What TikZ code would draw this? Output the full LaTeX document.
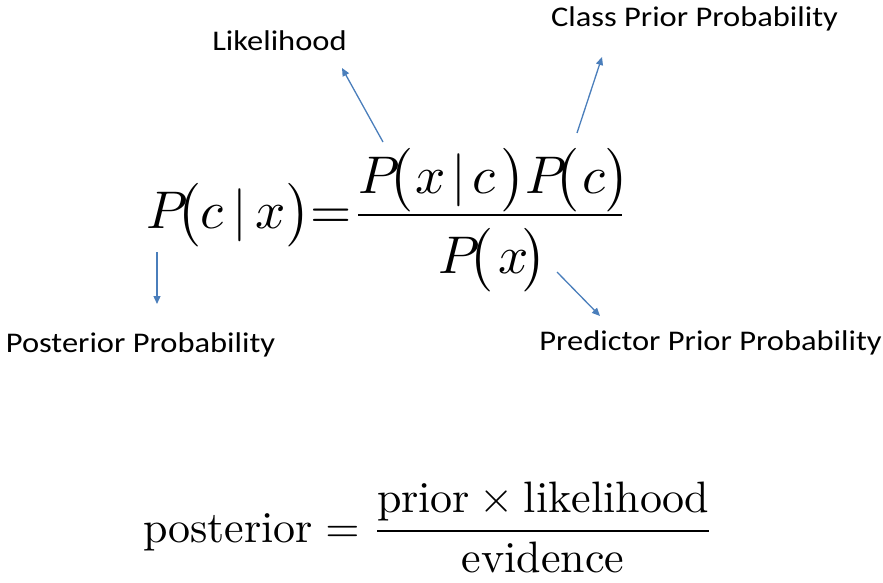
\documentclass[tikz,border=0pt]{standalone}
\usepackage{fontspec}
\usetikzlibrary{arrows.meta}
\newfontfamily\lblfont{Carlito}
\definecolor{arrowblue}{RGB}{74,126,187}
\tikzset{
  lbl/.style={inner sep=0pt, anchor=base, text=black, xscale=1.14, font=\lblfont\fontsize{28.5}{32}\selectfont},
  eqn/.style={inner sep=0pt, anchor=base west, scale=5.3},
  pointer/.style={draw=arrowblue, line width=1.3pt, -{Triangle[length=8pt,width=7pt]}},
  fracbar/.style={draw=black, line width=2pt}
}
\begin{document}
\begin{tikzpicture}[x=1pt,y=-1pt]
\useasboundingbox (0,0) rectangle (883,583);
% labels
\node[lbl] (lik) at (279.5,51) {Likelihood};
\node[lbl] (cls) at (694.5,27) {Class Prior Probability};
\node[lbl] (post) at (140.5,352) {Posterior Probability};
\node[lbl] (pred) at (710.5,350) {Predictor Prior Probability};
% main formula
\node[eqn] (lhs) at (145.5,228) {$P\mkern-4mu\bigl(c\mkern3mu|\mkern3mu x\bigr)\mathord{=}$};
\node[eqn] (num) at (357.5,193) {$P\mkern-4mu\bigl(\mkern1mu x\mkern2mu|\mkern2mu c\mkern2mu\bigr)P\mkern-4mu\bigl(\mkern1mu c\bigr)$};
\node[eqn] (den) at (437.5,273) {$P\mkern-4mu\bigl(\mkern2mu x\mkern-2mu\bigr)$};
\coordinate (barL) at (358,215);
\coordinate (barR) at (622,215);
\draw[fracbar] (barL) -- (barR);
% arrows
\coordinate (likA) at (383,142);
\coordinate (likB) at (342,68);
\coordinate (clsA) at (577,133);
\coordinate (clsB) at (602,57);
\coordinate (postA) at (157,252);
\coordinate (postB) at (157,304);
\coordinate (predA) at (557,272);
\coordinate (predB) at (600,316);
\draw[pointer] (likA) -- (likB);
\draw[pointer] (clsA) -- (clsB);
\draw[pointer] (postA) -- (postB);
\draw[pointer] (predA) -- (predB);
% bottom formula
\node[inner sep=0pt, anchor=base west, scale=4.4] (bayes) at (143,542)
  {$\displaystyle \mathrm{posterior}=\frac{\mathrm{prior}\times\mathrm{likelihood}}{\mathrm{evidence}}$};
\end{tikzpicture}
\end{document}
